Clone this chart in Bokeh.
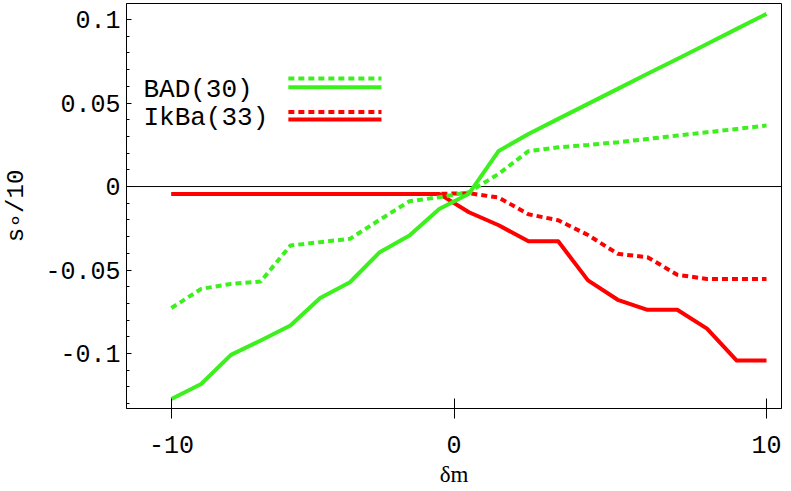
from bokeh.plotting import figure
from bokeh.models import FixedTicker, Span, Range1d, Label
from bokeh.embed import file_html
from bokeh.resources import INLINE

# ---- data ----
dm = [-10, -9, -8, -7, -6, -5, -4, -3, -2, -1, 0, 1, 2, 3, 4, 5, 6, 7, 8, 9, 10]
bad_dotted = [-0.0727, -0.0613, -0.0583, -0.0569, -0.0353, -0.0333, -0.0313, -0.0199,
              -0.0088, -0.0064, -0.0034, 0.0076, 0.0212, 0.0235, 0.0249, 0.0265,
              0.0285, 0.0305, 0.0325, 0.0345, 0.0365]
bad_solid = [-0.1272, -0.1182, -0.1008, -0.0922, -0.0832, -0.0667, -0.0573, -0.0393,
             -0.0293, -0.0135, -0.0043, 0.0213, 0.0315, 0.0405, 0.0495, 0.0585,
             0.0675, 0.0764, 0.0854, 0.0944, 0.1034]
ikba_dotted = [-0.0044, -0.0044, -0.0044, -0.0044, -0.0044, -0.0044, -0.0044, -0.0044,
               -0.0044, -0.0044, -0.0040, -0.0066, -0.0166, -0.0202, -0.0290, -0.0403,
               -0.0423, -0.0528, -0.0553, -0.0553, -0.0553]
ikba_solid = [-0.0044, -0.0044, -0.0044, -0.0044, -0.0044, -0.0044, -0.0044, -0.0044,
              -0.0044, -0.0044, -0.0154, -0.0232, -0.0328, -0.0328, -0.0562, -0.0678,
              -0.0738, -0.0738, -0.0851, -0.1042, -0.1042]
series_names = ["BAD(30)", "IkBa(33)"]

x_ticks = [-10, -0.5, 10]
x_tick_labels = ["-10", "0", "10"]
y_ticks = [-0.1, -0.05, 0, 0.05, 0.1]
y_tick_labels = ["-0.1", "-0.05", "0", "0.05", "0.1"]

# ---- styling ----
GREEN = "#3cf01e"
RED = "#ff0000"
MONO = "Liberation Mono"
SERIF = "Liberation Serif"

p = figure(width=783, height=491, output_backend="svg", toolbar_location=None,
           x_range=Range1d(-11.51, 10.504), y_range=Range1d(-0.1329, 0.1096),
           min_border_left=126, min_border_right=2, min_border_top=3,
           min_border_bottom=83)
p.background_fill_color = "white"
p.border_fill_color = "white"
p.outline_line_color = "black"
p.outline_line_alpha = 1.0
p.outline_line_width = 1
p.grid.visible = False

# axes
p.xaxis.ticker = FixedTicker(ticks=x_ticks, minor_ticks=[])
p.xaxis.major_label_overrides = dict(zip(x_ticks, x_tick_labels))
p.xaxis.major_tick_in = 10
p.xaxis.major_tick_out = 10
p.xaxis.minor_tick_in = 0
p.xaxis.minor_tick_out = 0
p.xaxis.major_label_standoff = 17
p.xaxis.axis_label = "δm"
p.xaxis.axis_label_text_font = SERIF
p.xaxis.axis_label_text_font_size = "23px"
p.xaxis.axis_label_text_font_style = "normal"
p.xaxis.axis_label_standoff = 6

y_minor = [round(k * 0.01, 2) for k in range(-13, 11) if k % 5 != 0]
p.yaxis.ticker = FixedTicker(ticks=y_ticks, minor_ticks=y_minor)
p.yaxis.major_label_overrides = dict(zip(y_ticks, y_tick_labels))
p.yaxis.major_tick_in = 5
p.yaxis.major_tick_out = 0
p.yaxis.minor_tick_in = 3
p.yaxis.minor_tick_out = 0
p.yaxis.major_label_standoff = 6
p.yaxis.axis_label = "s∘/10"
p.yaxis.axis_label_text_font = MONO
p.yaxis.axis_label_text_font_size = "24px"
p.yaxis.axis_label_text_font_style = "normal"
p.yaxis.axis_label_standoff = 12

for ax in (p.xaxis, p.yaxis):
    ax.axis_line_color = "black"
    ax.axis_line_width = 1
    ax.major_tick_line_color = "black"
    ax.minor_tick_line_color = "black"
    ax.major_label_text_font = MONO
    ax.major_label_text_font_size = "25px"
    ax.major_label_text_color = "black"
    ax.axis_label_text_color = "black"

# zero line
p.add_layout(Span(location=0, dimension="width", line_color="black",
                  line_width=1, level="underlay"))

# data lines
DASH = "6 4"
p.line(dm, ikba_dotted, line_color=RED, line_width=4, line_dash=DASH)
p.line(dm, ikba_solid, line_color=RED, line_width=4, line_join="round")
p.line(dm, bad_dotted, line_color=GREEN, line_width=4, line_dash=DASH)
p.line(dm, bad_solid, line_color=GREEN, line_width=4, line_join="round")

# legend (label at left, dashed + solid samples at right)
leg_x = [-6.07, -2.94]
leg_rows = [
    (series_names[0], GREEN, 0.0577, 0.0647, 0.0595),
    (series_names[1], RED, 0.0409, 0.0447, 0.0401),
]
for name, col, ty, yd, ys in leg_rows:
    p.add_layout(Label(x=-10.94, y=ty, text=name, text_font=MONO,
                       text_font_size="26px", text_color="black",
                       text_baseline="alphabetic"))
    p.line(leg_x, [yd, yd], line_color=col, line_width=4, line_dash=DASH)
    p.line(leg_x, [ys, ys], line_color=col, line_width=4)

open("out.html", "w").write(file_html(p, INLINE))
